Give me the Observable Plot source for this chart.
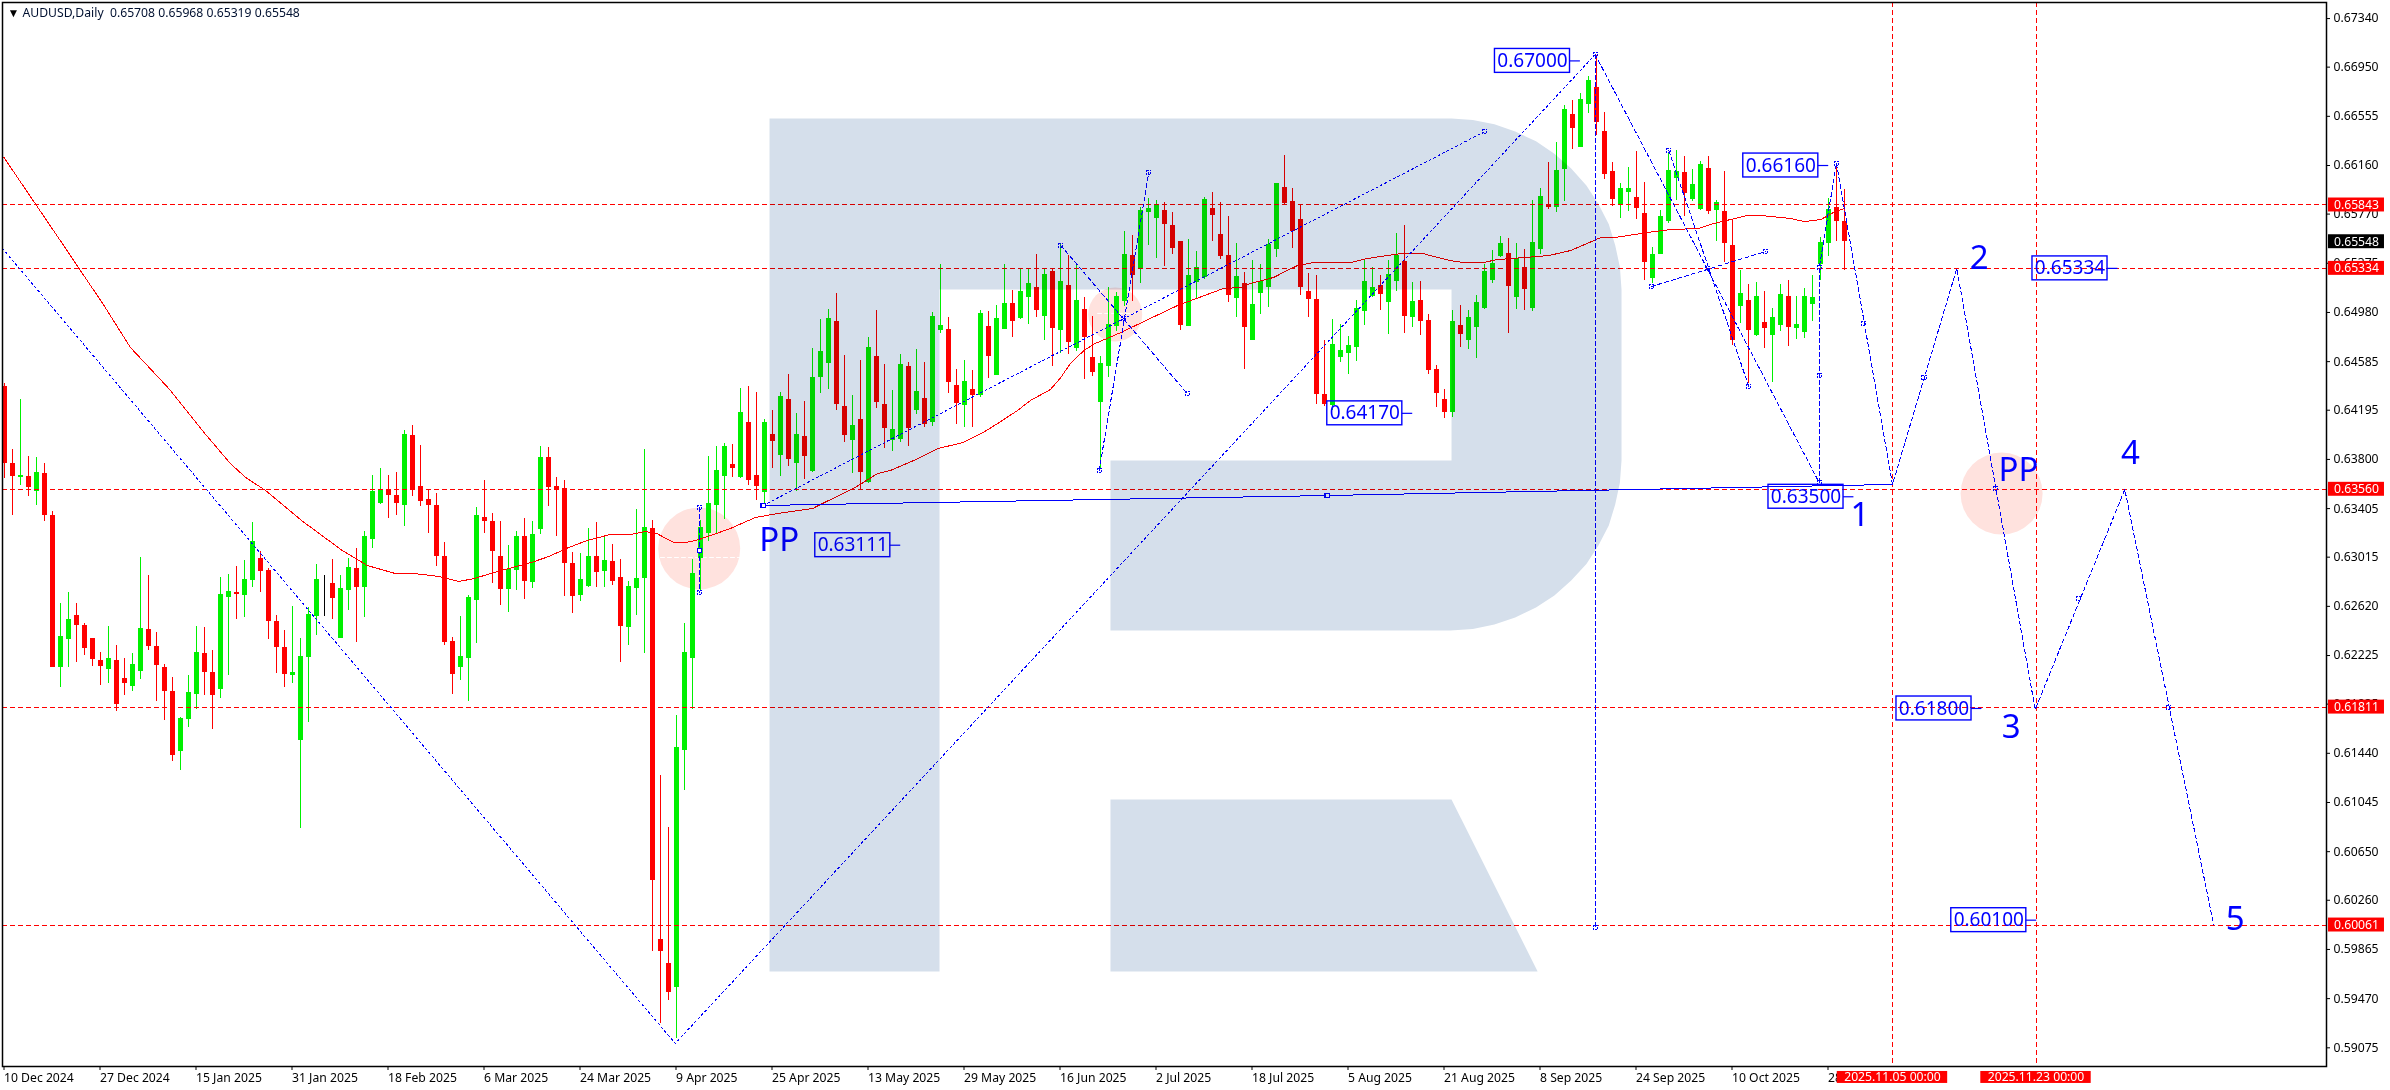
<!DOCTYPE html>
<html><head><meta charset="utf-8">
<style>html,body{margin:0;padding:0;background:#fff;overflow:hidden}svg{display:block}</style>
<script src="https://cdn.jsdelivr.net/npm/d3@7"></script>
<script src="https://cdn.jsdelivr.net/npm/@observablehq/plot@0.6"></script>
</head><body><div id="c"></div>
<script>
// Prices in points (1e-5)
const opens=[64385,63767,63655,63663,63542,63687,63350,62129,62354,62547,
62466,62362,62185,62113,62185,62041,61976,62097,62434,62298,
62129,61936,61454,61711,61912,62241,62088,61952,62691,62731,
62707,62828,63004,62908,62498,62289,62064,61543,62209,62539,
62836,62804,62362,62747,62924,62771,63157,63446,63558,63510,
63430,63992,63582,63478,63430,63020,62338,62129,62201,62667,
63333,63301,63020,62755,62908,63181,62812,63237,63815,63582,
63566,62964,62707,62779,63020,62900,62980,62852,62450,62763,
62844,63245,59945,59752,59559,61462,62201,63004,63205,63430,
63663,63759,63655,64096,63671,63534,64000,63831,64281,63767,
63984,63703,64458,64570,64907,64225,63952,64120,63614,64626,
64241,63952,63960,64546,64193,64289,64096,64835,64843,64394,
64233,64361,64313,64867,64474,64843,65052,64931,65100,65181,
64948,65309,64835,65197,64691,65004,64618,64257,64546,64867,
65068,65437,65333,65783,65735,65799,65679,65550,64867,65221,
65261,65815,65606,65437,65092,65213,64755,65132,65181,65486,
65983,65871,65727,65148,65084,64321,64233,64618,64650,64699,
64988,65108,65197,65060,65229,65389,64940,65076,64915,64522,
64281,64177,64875,64755,64859,65012,65237,65429,65453,65100,
65341,65012,65486,65847,65823,66128,66570,66305,66650,66786,
66433,66112,65839,65943,65903,65775,65253,65445,65711,66056,
66104,65887,65807,66136,65799,65791,65518,65028,65076,64795,
64899,64795,64875,65108,64851,64819,65044,65365,65534,65823,
65708];
const closes=[63767,63663,63671,63574,63695,63350,62129,62378,62514,62466,
62282,62193,62137,62201,61832,62000,62153,62442,62298,62145,
61936,61423,61719,61928,62249,62088,61904,62715,62739,62715,
62836,63141,62900,62498,62289,62072,62088,62217,62555,62836,
62836,62683,62763,62932,62771,63181,63542,63558,63510,63446,
64000,63550,63462,63430,63020,62330,62072,62217,62691,63350,
63301,63060,62755,62916,63181,62820,63197,63815,63574,63558,
62964,62699,62836,63020,62892,62988,62820,62458,62779,62844,
63253,60419,59848,59519,61487,62249,62884,63253,63446,63711,
63904,63727,64177,63630,63582,64096,63944,64305,63799,64000,
63823,64458,64667,64931,64241,63992,64072,63695,64699,64257,
64048,64040,64562,64048,64345,64080,64948,64875,64418,64249,
64426,64313,64972,64626,64931,65052,64907,65148,65213,64996,
65285,64851,65229,64739,65076,64779,64498,64570,64883,65108,
65445,65277,65799,65815,65839,65687,65494,64875,65277,65341,
65887,65759,65429,65116,65269,64859,65044,65229,65526,66016,
65855,65630,65181,65084,64321,64241,64723,64675,64715,65012,
65229,65181,65124,65285,65437,64948,65068,64907,64514,64329,
64177,64907,64803,64940,65060,65309,65373,65534,65189,65413,
65164,65542,65911,65823,66120,66610,66457,66690,66843,66505,
66088,65887,65975,65975,65815,65381,65445,65751,66120,66112,
65935,66007,66168,65791,65863,65534,64755,65132,64835,65108,
64851,64940,65124,64859,64883,65108,65100,65542,65807,65710,
65548];
const highs=[64409,63880,64281,63823,63815,63767,63382,62643,62731,62643,
62482,62362,62249,62458,62305,62201,62241,63012,62868,62410,
62153,62048,61727,62064,62458,62450,62265,62852,62876,62940,
62988,63293,63060,62924,62547,62426,62619,62362,62611,62956,
62868,62996,62868,63004,63085,63221,63671,63727,63671,63695,
64032,64072,63912,63558,63526,63133,62370,62538,62707,63414,
63630,63366,63301,63109,63221,63325,63301,63904,63896,63655,
63630,63052,63044,63245,63293,63173,63117,62996,62820,63398,
63880,63309,61262,60844,61743,62482,62996,63309,63823,63904,
63928,63920,64369,64385,64337,64120,64193,64337,64482,64169,
64265,64691,64923,65004,65132,64634,64313,64594,64779,64996,
64562,64353,64642,64578,64683,64578,64980,65365,64940,64522,
64594,64514,64996,64988,65036,65365,65157,65333,65325,65445,
65325,65325,65526,65437,65365,65100,64948,64626,65181,65140,
65630,65598,65823,65895,65879,65863,65783,65550,65566,65470,
65903,65943,65863,65751,65534,65301,65397,65365,65566,66016,
66240,65975,65847,65293,65277,64755,64923,64883,64787,65076,
65397,65341,65277,65397,65614,65679,65221,65229,64964,64554,
64361,64996,65036,64996,65116,65365,65477,65590,65574,65534,
65486,65879,65975,66184,66345,66642,66682,66738,66875,67043,
66586,66184,66016,66144,66272,66024,65502,65799,66256,66280,
66232,66128,66192,66232,65879,66112,65718,65317,65205,65221,
65148,65012,65205,65237,65108,65172,65277,65582,65895,66152,
65968];
const lows=[63647,63350,63590,63502,63430,63301,62129,61968,62129,62169,
62225,62137,61984,62000,61776,61904,61936,62033,62265,61856,
61703,61374,61302,61647,61792,61904,61631,61880,62064,62514,
62530,62771,62731,62354,62080,61968,62000,60836,61687,62386,
62539,62514,62362,62587,62330,62530,63085,63438,63325,63350,
63261,63502,63422,63205,62940,62305,61912,62024,61856,62322,
63205,62803,62627,62570,62747,62675,62763,63197,63422,63181,
62699,62562,62659,62771,62771,62771,62787,62169,62305,62547,
62241,59848,59270,59455,59150,61141,61792,62747,63141,63205,
63317,63655,63647,63590,63470,63430,63727,63663,63743,63542,
63638,63695,64329,64361,64193,63936,63687,63558,63606,64209,
63888,63863,63936,63904,64160,64056,64064,64811,64329,64080,
64056,64056,64297,64450,64474,64843,64779,64923,64883,64940,
64755,64546,64650,64642,64667,64442,64466,63727,64458,64827,
65028,65068,65213,65518,65413,65349,65445,64835,64867,65084,
65245,65550,65405,65060,64940,64522,64755,64964,65020,65421,
65847,65494,65116,64940,64241,64225,64193,64578,64482,64586,
64875,65100,64996,64803,65148,64811,64859,64795,64482,64217,
64129,64137,64699,64683,64610,65004,65213,65421,64811,65004,
64996,64988,65445,65807,65783,65871,66289,66305,66578,66401,
66048,65831,65735,65791,65727,65237,65213,65445,65694,65879,
65751,65871,65799,65767,65550,65381,64715,64891,64410,64787,
64691,64418,64827,64707,64763,64771,64907,65237,65429,65550,
65319];
const maBars=[0,3.3,7.2,10.9,12.1,15.8,20.6,25.1,28.3,30.2,32.7,37.2,39.4,42.3,45.4,48.9,51.2,54.4,56.9,58.8,61.7,65.9,68.1,70.3,72.9,75.8,78.3,80.2,81.6,83.7,85.3,86.9,90.8,93.9,96.7,101.1,102.3,104.9,106.4,109.2,110.8,113.7,116.8,119.9,122.4,124.2,126.7,128.3,130.8,132.1,133.3,135,136.4,139.6,146.7,150.4,152.4,154.6,155.8,158.7,160.4,161.7,163.7,168.3,170.4,172.9,174.6,177.4,179.2,180.8,182.4,184.9,186.7,190,193.1,195.8,197.9,199.6,201.4,205.4,208.3,211.8,213.7,215.8,217.9,219.6,223.3,225,227.1,228.7,230];
const maVals=[66224,65911,65542,65188,65076,64699,64369,64008,63767,63655,63550,63309,63205,63068,62948,62884,62884,62860,62820,62844,62900,62972,63020,63085,63149,63197,63197,63221,63205,63133,63133,63157,63245,63333,63366,63406,63446,63526,63574,63687,63711,63791,63888,63936,64016,64088,64193,64273,64361,64458,64570,64675,64731,64819,65036,65124,65172,65181,65213,65261,65317,65357,65381,65381,65413,65437,65453,65453,65421,65397,65381,65381,65405,65421,65437,65477,65534,65582,65582,65622,65646,65654,65694,65726,65759,65759,65735,65710,65726,65783,65815];

const levels=[0.65843,0.65334,0.63560,0.61811,0.60061];
const lastPrice=0.65548;
const yTicks=[0.67340,0.66950,0.66555,0.66160,0.65770,0.65375,0.64980,0.64585,0.64195,0.63800,0.63405,0.63015,0.62620,0.62225,0.61835,0.61440,0.61045,0.60650,0.60260,0.59865,0.59470,0.59075];
const xTickBars=[0,12,24,36,48,60,72,84,96,108,120,132,144,156,168,180,192,204,216,228];
const xTickLabels=["10 Dec 2024","27 Dec 2024","15 Jan 2025","31 Jan 2025","18 Feb 2025","6 Mar 2025","24 Mar 2025","9 Apr 2025","25 Apr 2025","13 May 2025","29 May 2025","16 Jun 2025","2 Jul 2025","18 Jul 2025","5 Aug 2025","21 Aug 2025","8 Sep 2025","24 Sep 2025","10 Oct 2025","28 Oct 2025"];
const timeBars=[236.06,254];
const timeLabels=["2025.11.05 00:00","2025.11.23 00:00"];

// analysis lines: [bar, price in points]
const ppLine=[[94.9,63430],[165.4,63510],[236.06,63599]];
const dottedPaths=[
 [[-0.19,65494],[83.9,59110],[198.9,67051]],
 [[94.9,63430],[185.1,66433]]
];
const dashedPaths=[
 [[198.9,67051],[226.9,63614]],
 [[198.9,67051],[198.9,60041]],
 [[226.9,63614],[226.9,65341],[229.06,66176]],
 [[229.06,66176],[236.06,63599],[244.1,65333],[253.9,61792],[265.1,63558],[276.2,60065]],
 [[132.1,65518],[147.9,64329]],
 [[136.9,63711],[143.1,66104]],
 [[86.9,63414],[86.9,62731]],
 [[205.9,65188],[220.2,65469]],
 [[208.1,66280],[218.1,64385]]
];
const handles=[[229.06,66176],[198.9,67051],[198.9,60041],[185.1,66433],[205.9,65188],[208.1,66280],[220.2,65469],[218.1,64385],[212.9,65333],[226.9,65341],[226.9,64474],[232.4,64891],[240,64458],[132.1,65518],[147.9,64329],[136.9,63711],[143.1,66104],[139.9,64931],[86.9,63414],[86.9,62731],[248.9,63566],[259.3,62683],[270.6,61808],[226.9,63614]];
const solidHandles=[[94.9,63430],[165.4,63510]];
const whiteHandles=[[86.9,63068]];

const labelTexts=["0.67000","0.66160","0.64170","0.63111","0.63500","0.65334","0.61800","0.60100"];
const labelBars=[191.06,222.1,170.1,106.1,225.25,258.25,241.25,248.1];
const labelVals=[0.67,0.6616,0.6417,0.63111,0.635,0.65334,0.618,0.601];
const bigTexts=["PP","PP","1","2","3","4","5"];
const bigBars=[96.9,251.8,232,246.9,250.9,265.8,278.9];
const bigVals=[63149,63711,63350,65413,61647,63847,60105];
const circleBars=[86.9,249.7,138.9];
const circleVals=[63085,63526,64964];
const circleR=[41,41,27];
const circleDash=[[[82.06,63012],[92.06,63012]],[[136.7,64972],[141.4,64972]]];

// watermark outline
const logoBars=[95.69,180.94,183.6,186.3,188.9,191.5,193.8,195.9,197.8,199.3,200.6,201.4,201.99,202.19,202.19,201.99,201.4,200.6,199.3,197.8,195.9,193.8,191.5,188.9,186.3,183.6,180.8,138.31,138.31,180.94,180.94,116.94,116.94,95.69,95.69];
const logoVals=[66537,66537,66525,66491,66433,66354,66254,66136,66000,65851,65689,65520,65343,65164,63791,63615,63438,63269,63109,62960,62828,62707,62611,62531,62474,62438,62426,62426,63791,63791,65164,65164,59688,59688,66537];
const legBars=[138.31,180.94,191.7,138.31,138.31];
const legVals=[61069,61069,59688,59688,61069];

const GREEN="#00f000",RED="#ff0000",BLUE="#0000ff",LOGO="#d5dfeb",PINK="#ffe2de";
const FONT="'Noto Sans',sans-serif";
const pt=v=>v/1e5;
const bars=opens.map((o,i)=>({i,o:pt(o),c:pt(closes[i]),h:pt(highs[i]),l:pt(lows[i]),
  col:closes[i]>o?GREEN:closes[i]<o?RED:"#000"}));
const toXY=a=>({x:a[0],y:pt(a[1])});
const ma=maBars.map((b,i)=>({x:b,y:pt(maVals[i])}));
const labels=labelTexts.map((t,i)=>({t,x:labelBars[i],y:labelVals[i]}));
const bigs=bigTexts.map((t,i)=>({t,x:bigBars[i],y:pt(bigVals[i])}));
const circles=circleBars.map((x,i)=>({x,y:pt(circleVals[i]),r:circleR[i]}));
const LW=4.69,LH=0.00096;
const tagX1=290.56,tagX2=297.56,tagH=0.00056;
const tagC=294.06;
const timeY=0.58837,timeH=0.00048,timeW=6.9;

const chart=Plot.plot({
  width:2390,height:1090,marginLeft:2,marginRight:64,marginTop:2,marginBottom:24,
  style:{fontFamily:FONT,fontSize:"12px",color:"#000",background:"#fff"},
  x:{domain:[-0.1875,290.3125]},
  y:{domain:[0.58925,0.67469]},
  color:{type:"identity"},
  marks:[
    ...circles.map(c=>Plot.dot([c],{x:"x",y:"y",r:c.r,fill:PINK,stroke:null})),
    ...circleDash.map(d=>Plot.line(d.map(toXY),{x:"x",y:"y",stroke:"#fff",strokeWidth:1,strokeDasharray:"4 3"})),
    Plot.ruleX(bars,{x:"i",y1:"l",y2:"h",stroke:"col",strokeWidth:1,shapeRendering:"crispEdges"}),
    Plot.ruleX(bars.filter(b=>b.o!==b.c),{x:"i",y1:"o",y2:"c",stroke:"col",strokeWidth:5,shapeRendering:"crispEdges"}),
    Plot.line(ma,{x:"x",y:"y",stroke:RED,strokeWidth:1,shapeRendering:"crispEdges"}),
    Plot.ruleY(levels,{stroke:RED,strokeWidth:1,strokeDasharray:"5 3",shapeRendering:"crispEdges"}),
    Plot.ruleX(timeBars,{stroke:RED,strokeWidth:1,strokeDasharray:"5 3",shapeRendering:"crispEdges"}),
    Plot.line(ppLine.map(toXY),{x:"x",y:"y",stroke:BLUE,strokeWidth:1,shapeRendering:"crispEdges"}),
    ...dottedPaths.map(d=>Plot.line(d.map(toXY),{x:"x",y:"y",stroke:BLUE,strokeWidth:1,strokeDasharray:"2 3",shapeRendering:"crispEdges"})),
    ...dashedPaths.map(d=>Plot.line(d.map(toXY),{x:"x",y:"y",stroke:BLUE,strokeWidth:1,strokeDasharray:"4 3",shapeRendering:"crispEdges"})),
    Plot.dot(handles.map(toXY),{x:"x",y:"y",symbol:"square",r:2.4,fill:"none",stroke:BLUE,strokeWidth:1,strokeDasharray:"2 1",shapeRendering:"crispEdges"}),
    Plot.dot(solidHandles.map(toXY),{x:"x",y:"y",symbol:"square",r:2.4,fill:"#fff",stroke:BLUE,strokeWidth:1.2,shapeRendering:"crispEdges"}),
    Plot.dot(whiteHandles.map(toXY),{x:"x",y:"y",symbol:"square",r:2.4,fill:"#fff",stroke:BLUE,strokeWidth:1,shapeRendering:"crispEdges"}),
    Plot.rect(labels,{x1:d=>d.x-LW,x2:d=>d.x+LW,y1:d=>d.y-LH,y2:d=>d.y+LH,fill:"none",stroke:BLUE,strokeWidth:1.4,inset:0}),
    Plot.ruleY(labels,{y:"y",x1:d=>d.x+LW,x2:d=>d.x+LW+1.3,stroke:BLUE,strokeWidth:1.2}),
    Plot.text(labels,{x:"x",y:"y",text:"t",fill:BLUE,fontSize:19,fontFamily:FONT}),
    Plot.text(bigs,{x:"x",y:"y",text:"t",fill:BLUE,fontSize:33,fontFamily:FONT}),
    Plot.line(logoBars.map((x,i)=>({x,y:pt(logoVals[i])})),{x:"x",y:"y",fill:LOGO,stroke:"none",mixBlendMode:"multiply"}),
    Plot.line(legBars.map((x,i)=>({x,y:pt(legVals[i])})),{x:"x",y:"y",fill:LOGO,stroke:"none",mixBlendMode:"multiply"}),
    Plot.frame({stroke:"#000",strokeWidth:1.5}),
    Plot.axisY(yTicks,{anchor:"right",tickSize:3,tickPadding:4,tickFormat:d=>d.toFixed(5),fontSize:12.2,label:null,fill:"#000",stroke:"#000"}),
    Plot.axisX(xTickBars,{anchor:"bottom",tickSize:4,tickPadding:3,textAnchor:"start",tickFormat:(d,i)=>xTickLabels[xTickBars.indexOf(d)],fontSize:12.2,label:null,fill:"#000",stroke:"#000"}),
    Plot.rect(levels,{x1:tagX1,x2:tagX2,y1:d=>d-tagH,y2:d=>d+tagH,fill:RED}),
    Plot.text(levels,{x:tagC,y:d=>d,text:d=>d.toFixed(5),fill:"#fff",fontSize:12.2}),
    Plot.rect([lastPrice],{x1:tagX1,x2:tagX2,y1:d=>d-tagH,y2:d=>d+tagH,fill:"#000"}),
    Plot.text([lastPrice],{x:tagC,y:d=>d,text:d=>d.toFixed(5),fill:"#fff",fontSize:12.2}),
    Plot.rect(timeBars,{x1:d=>d-timeW,x2:d=>d+timeW,y1:timeY-timeH,y2:timeY+timeH,fill:RED}),
    Plot.text(timeLabels,{x:(d,i)=>timeBars[i],y:timeY,text:d=>d,fill:"#fff",fontSize:12.2}),
    Plot.text(["AUDUSD,Daily  "+[65708,65968,65319,65548].map(v=>pt(v).toFixed(5)).join(" ")],{frameAnchor:"top-left",dx:20,dy:6,text:d=>d,fontSize:12.2,fill:"#001030",textAnchor:"start"}),
    Plot.text(["▼"],{frameAnchor:"top-left",dx:5,dy:6,text:d=>d,fontSize:12,fill:"#000",textAnchor:"start"})
  ]
});
document.getElementById("c").appendChild(chart);
</script></body></html>
